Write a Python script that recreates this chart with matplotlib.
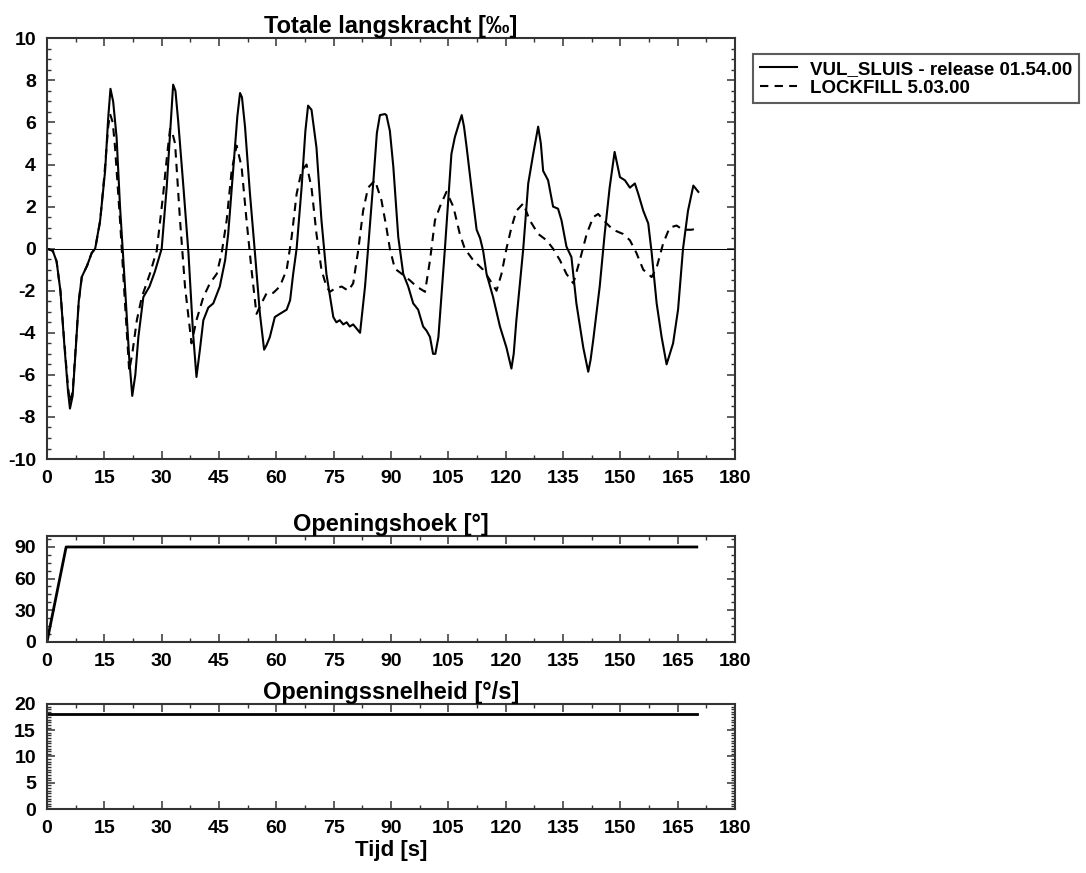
import matplotlib
matplotlib.use("Agg")
import matplotlib.pyplot as plt
from matplotlib.ticker import MultipleLocator

plt.rcParams['font.family'] = ['Liberation Sans', 'DejaVu Sans']
plt.rcParams['font.weight'] = 'bold'
plt.rcParams['axes.unicode_minus'] = False

# VUL_SLUIS - release 01.54.00
t_vul = [0, 1.5, 2.5, 3.5, 4.5, 5.5, 6.0, 6.7, 7.5, 8.3, 9.1, 10.5, 11.7, 12.6, 13.9, 15.2, 16.0, 16.6,
         17.3, 18.2, 19.1, 20.4, 21.5, 22.3, 23.1, 23.9, 25.2, 26.8, 28.2, 29.1, 30.0, 31.3, 32.3, 33.0,
         33.6, 34.3, 35.7, 37.0, 38.2, 39.1, 40.0, 40.9, 42.2, 43.5, 45.2, 46.6, 47.4, 48.7, 49.8, 50.5,
         51.0, 51.8, 53.1, 54.4, 55.7, 56.8, 57.4, 58.3, 59.6, 60.9, 62.7, 63.6, 64.4, 65.3, 66.6, 67.6,
         68.3, 69.2, 70.5, 71.8, 73.1, 74.9, 75.7, 76.6, 77.5, 78.4, 79.2, 80.1, 81.0, 81.9, 83.2, 84.0,
         85.4, 86.3, 87.1, 88.4, 88.8, 89.7, 90.6, 91.9, 93.2, 94.5, 95.8, 97.1, 98.4, 99.3, 100.2, 101.0,
         101.6, 102.4, 104.1, 105.8, 106.7, 107.7, 108.5, 109.1, 109.8, 111.1, 112.4, 113.3, 114.1, 115.0,
         116.7, 118.5, 120.2, 121.5, 122.1, 122.8, 124.6, 125.9, 127.2, 128.5, 129.2, 129.8, 131.1, 132.4,
         133.7, 134.6, 135.9, 137.2, 138.5, 140.3, 141.6, 142.2, 142.9, 144.6, 145.9, 147.2, 148.5, 149.2,
         149.9, 151.2, 152.5, 153.8, 154.7, 156.0, 157.3, 158.2, 159.5, 160.8, 162.1, 163.8, 165.1, 166.4,
         167.7, 169.1, 170.4]
f_vul = [0, -0.1, -0.6, -2.0, -4.5, -6.8, -7.6, -7.0, -4.8, -2.5, -1.34, -0.8, -0.2, 0, 1.35, 3.7, 6.2, 7.6,
         7.0, 5.3, 2.0, -1.8, -5.2, -7.0, -6.0, -4.2, -2.3, -1.8, -1.1, -0.55, 0, 2.9, 5.8, 7.8,
         7.5, 6.1, 2.9, -0.2, -4.0, -6.1, -4.8, -3.4, -2.8, -2.6, -1.8, -0.55, 0.7, 3.7, 6.3, 7.4,
         7.2, 5.8, 2.6, -0.2, -3.1, -4.8, -4.6, -4.2, -3.25, -3.1, -2.9, -2.45, -1.2, 0, 2.9, 5.6,
         6.8, 6.6, 4.8, 1.35, -1.2, -3.25, -3.5, -3.4, -3.6, -3.5, -3.7, -3.6, -3.8, -4.0, -1.8, 0,
         3.25, 5.5, 6.35, 6.4, 6.35, 5.6, 3.9, 0.55, -1.2, -1.8, -2.6, -2.9, -3.7, -3.9, -4.2, -5.0,
         -5.0, -4.2, 0, 4.5, 5.3, 5.9, 6.35, 5.8, 4.8, 2.8, 0.9, 0.5, -0.1, -1.2,
         -2.3, -3.7, -4.7, -5.7, -5.0, -3.4, 0, 3.1, 4.5, 5.8, 5.0, 3.7, 3.25, 2.0,
         1.9, 1.35, 0.1, -0.4, -2.6, -4.7, -5.85, -5.3, -4.35, -1.8, 0.7, 2.9, 4.6, 4.0,
         3.4, 3.25, 2.9, 3.1, 2.6, 1.8, 1.2, -0.2, -2.6, -4.2, -5.5, -4.5, -2.9, 0,
         1.8, 3.0, 2.7]

# LOCKFILL 5.03.00
t_lock = [0, 1.5, 2.5, 3.5, 4.5, 5.5, 6.0, 6.7, 7.5, 8.3, 9.1, 10.5, 11.7, 12.6, 13.9, 15.0, 16.0, 16.5,
          17.2, 17.8, 19.1, 20.4, 21.5, 22.3, 23.5, 24.8, 26.9, 28.7, 30.4, 31.5, 32.2, 32.8, 33.5, 34.8,
          36.1, 37.8, 39.1, 40.9, 42.6, 44.4, 45.7, 47.0, 48.3, 49.6, 50.9, 52.2, 53.5, 54.8, 56.1, 57.5,
          59.2, 60.9, 62.7, 64.0, 65.3, 66.6, 67.9, 69.2, 70.5, 71.8, 73.1, 74.0, 75.3, 77.1, 78.8, 80.1,
          81.4, 82.7, 84.0, 85.8, 87.5, 88.8, 89.7, 91.0, 93.2, 94.9, 96.7, 98.9, 100.2, 101.5, 102.8,
          104.5, 106.3, 108.0, 109.3, 111.5, 114.1, 115.9, 117.6, 118.9, 120.2, 121.5, 122.8, 124.6,
          126.3, 128.5, 130.7, 132.4, 134.2, 135.9, 137.7, 139.4, 141.2, 142.9, 144.2, 146.4, 148.1,
          150.7, 152.5, 154.2, 156.0, 158.2, 159.5, 161.2, 162.9, 164.7, 166.4, 168.6, 169.9]
f_lock = [0, -0.1, -0.6, -2.0, -4.4, -6.6, -7.3, -6.8, -4.7, -2.5, -1.34, -0.8, -0.2, 0, 1.3, 3.5, 5.8, 6.4,
          6.0, 4.8, 1.35, -2.6, -5.8, -5.0, -3.4, -2.3, -1.2, -0.1, 2.6, 4.6, 5.7, 5.5, 5.0, 1.35,
          -1.8, -4.5, -3.4, -2.3, -1.65, -1.2, -0.2, 1.35, 3.7, 4.9, 3.9, 1.35, -1.0, -3.1, -2.6, -2.1,
          -2.1, -1.8, -1.0, 0.55, 2.6, 3.7, 4.0, 2.9, 0.7, -1.0, -1.8, -2.05, -1.9, -1.8, -2.0, -1.65,
          -0.1, 1.8, 2.9, 3.25, 2.3, 1.0, 0, -0.95, -1.25, -1.5, -1.8, -2.05, -0.55, 1.35, 2.0,
          2.7, 2.0, 0.7, 0, -0.55, -1.0, -1.5, -2.0, -1.2, 0, 1.0, 1.8, 2.15,
          1.35, 0.7, 0.4, 0, -0.55, -1.2, -1.65, -0.55, 0.7, 1.5, 1.65, 1.2, 0.9,
          0.7, 0.4, -0.2, -1.0, -1.35, -0.9, 0.25, 1.0, 1.1, 0.9, 0.9, 0.95]

# Openingshoek and openingssnelheid
t_hoek = [0, 5, 170]
hoek = [0, 90, 90]
t_snel = [0, 170]
snel = [18, 18]

fig = plt.figure(figsize=(10.86, 8.73), dpi=100)


def style_axes(ax, ymajor, yminor):
    ax.set_xlim(0, 180)
    ax.xaxis.set_major_locator(MultipleLocator(15))
    ax.xaxis.set_minor_locator(MultipleLocator(7.5))
    ax.yaxis.set_major_locator(MultipleLocator(ymajor))
    ax.yaxis.set_minor_locator(MultipleLocator(yminor))
    ax.tick_params(which='both', direction='in', top=True, right=True, labelsize=14, pad=8,
                   color='#333333')
    ax.tick_params(which='major', length=6, width=1.1)
    ax.tick_params(which='minor', length=3, width=1.0)
    for sp in ax.spines.values():
        sp.set_linewidth(1.5)
        sp.set_color('#333333')
    for lab in ax.get_xticklabels() + ax.get_yticklabels():
        lab.set_fontweight('bold')


ax1 = fig.add_axes([0.0433, 0.4742, 0.6335, 0.4819])
ax1.plot(t_vul, f_vul, color='black', lw=1.5, label='VUL_SLUIS - release 01.54.00')
ax1.plot(t_lock, f_lock, color='black', lw=1.5, ls=(0, (4, 3)), label='LOCKFILL 5.03.00')
ax1.axhline(0, color='black', lw=0.75)
ax1.set_ylim(-10, 10)
style_axes(ax1, 2, 0.5)
ax1.set_title('Totale langskracht [‰]', fontsize=17, fontweight='bold', pad=1)
leg = ax1.legend(loc='upper left', bbox_to_anchor=(0.6934, 0.9381), bbox_transform=fig.transFigure,
                 fontsize=13.5, frameon=True, fancybox=False, edgecolor='#333333',
                 handlelength=2.0, borderpad=0.35, labelspacing=0.1, handletextpad=0.7,
                 borderaxespad=0)
leg.get_frame().set_linewidth(1.5)
for txt in leg.get_texts():
    txt.set_fontweight('bold')

ax2 = fig.add_axes([0.0433, 0.2650, 0.6335, 0.1205])
ax2.plot(t_hoek, hoek, color='black', lw=2)
ax2.set_ylim(0, 100)
style_axes(ax2, 30, 7.5)
ax2.set_title('Openingshoek [°]', fontsize=17, fontweight='bold', pad=1)

ax3 = fig.add_axes([0.0433, 0.0733, 0.6335, 0.1203])
ax3.plot(t_snel, snel, color='black', lw=2)
ax3.set_ylim(0, 20)
style_axes(ax3, 5, 0.5)
ax3.set_title('Openingssnelheid [°/s]', fontsize=17, fontweight='bold', pad=1)
ax3.set_xlabel('Tijd [s]', fontsize=16, fontweight='bold', labelpad=2)

fig.savefig('out.png', dpi=100)
